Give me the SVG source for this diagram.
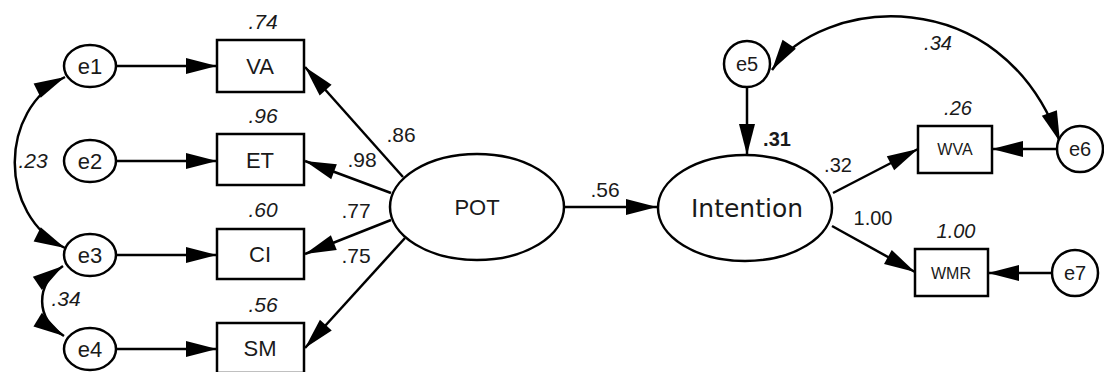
<svg xmlns="http://www.w3.org/2000/svg" width="1104" height="372" viewBox="0 0 1104 372">
<defs>
<marker id="ah" markerUnits="userSpaceOnUse" markerWidth="31" markerHeight="16" refX="31" refY="8" orient="auto-start-reverse" overflow="visible">
<path d="M0,0 L31,8 L0,16 z" fill="#000"/>
</marker>
<style>
.sh{fill:#fff;stroke:#000;stroke-width:2.5}
.ln{fill:none;stroke:#000;stroke-width:2.5;marker-end:url(#ah)}
.bi{marker-start:url(#ah)}
.t{font-family:"Liberation Sans",Arial,sans-serif;fill:#1a1a1a;text-anchor:middle}
.n{font-size:22px}
.l{font-size:21px}
.s{font-size:16px}
.w{font-size:20px}
.i{font-style:italic}
.b{font-weight:bold}
</style>
</defs>
<rect width="1104" height="372" fill="#fff"/>
<g id="connectors">
<line class="ln" x1="117" y1="66" x2="217" y2="66"/>
<line class="ln" x1="117" y1="161" x2="217" y2="161"/>
<line class="ln" x1="117" y1="255" x2="217" y2="255"/>
<line class="ln" x1="117" y1="349" x2="217" y2="349"/>
<path class="ln bi" d="M65,77 C-2,110 -2,215 65,248"/>
<path class="ln bi" d="M63,266 C35,285 35,318 64,336"/>
<line class="ln" x1="403" y1="177" x2="305" y2="67"/>
<line class="ln" x1="391" y1="193" x2="305" y2="161"/>
<line class="ln" x1="391" y1="220" x2="305" y2="254"/>
<line class="ln" x1="405" y1="238" x2="305" y2="348"/>
<line class="ln" x1="565" y1="207" x2="657" y2="207"/>
<line class="ln" x1="747" y1="87" x2="747" y2="155"/>
<line class="ln" x1="833" y1="193" x2="918" y2="149"/>
<line class="ln" x1="832" y1="226" x2="915" y2="272"/>
<line class="ln" x1="1057" y1="149" x2="992" y2="149"/>
<line class="ln" x1="1052" y1="273" x2="988" y2="273"/>
<path class="ln bi" d="M772,70 C820,-2 1000,-22 1060,142"/>
</g>
<g id="e1"><ellipse class="sh" cx="90" cy="66" rx="26" ry="21"/><text class="t n" x="90" y="74">e1</text></g>
<g id="e2"><ellipse class="sh" cx="90" cy="161" rx="26" ry="21"/><text class="t n" x="90" y="169">e2</text></g>
<g id="e3"><ellipse class="sh" cx="90" cy="255" rx="26" ry="21"/><text class="t n" x="90" y="263">e3</text></g>
<g id="e4"><ellipse class="sh" cx="90" cy="349" rx="26" ry="21"/><text class="t n" x="90" y="357">e4</text></g>
<g id="VA"><rect class="sh" x="217" y="40" width="87" height="52"/><text class="t n" x="260" y="74">VA</text><text class="t l i" x="263" y="29">.74</text></g>
<g id="ET"><rect class="sh" x="217" y="134" width="87" height="51"/><text class="t n" x="260" y="168">ET</text><text class="t l i" x="263" y="123">.96</text></g>
<g id="CI"><rect class="sh" x="217" y="229" width="87" height="50"/><text class="t n" x="260" y="262">CI</text><text class="t l i" x="263" y="217">.60</text></g>
<g id="SM"><rect class="sh" x="217" y="323" width="87" height="50"/><text class="t n" x="260" y="356">SM</text><text class="t l i" x="263" y="312">.56</text></g>
<g id="POT"><ellipse class="sh" cx="477" cy="207" rx="87" ry="53"/><text class="t n" x="477" y="215">POT</text></g>
<g id="Intention"><ellipse class="sh" cx="745" cy="208" rx="87" ry="53"/><text class="t" x="747" y="217" style="font-family:'DejaVu Sans',sans-serif;font-size:25px">Intention</text></g>
<g id="e5"><circle class="sh" cx="747" cy="64" r="23"/><text class="t w" x="747" y="71">e5</text></g>
<g id="e6"><circle class="sh" cx="1080" cy="149" r="23"/><text class="t w" x="1080" y="156">e6</text></g>
<g id="e7"><circle class="sh" cx="1075" cy="273" r="23"/><text class="t w" x="1075" y="280">e7</text></g>
<g id="WVA"><rect class="sh" x="918" y="126" width="74" height="47"/><text class="t s" x="955" y="155">WVA</text><text class="t w i" x="958" y="115">.26</text></g>
<g id="WMR"><rect class="sh" x="915" y="249" width="73" height="47"/><text class="t s" x="951" y="279">WMR</text><text class="t w i" x="956" y="238">1.00</text></g>
<g id="labels">
<text class="t l i" x="33" y="168">.23</text>
<text class="t l i" x="66" y="306">.34</text>
<text class="t l" x="401" y="142">.86</text>
<text class="t l" x="362" y="167">.98</text>
<text class="t l" x="356" y="218">.77</text>
<text class="t l" x="356" y="263">.75</text>
<text class="t l" x="605" y="197">.56</text>
<text class="t w b" x="777" y="146">.31</text>
<text class="t w" x="838" y="172">.32</text>
<text class="t w" x="873" y="225">1.00</text>
<text class="t w i" x="938" y="50">.34</text>
</g>
</svg>
